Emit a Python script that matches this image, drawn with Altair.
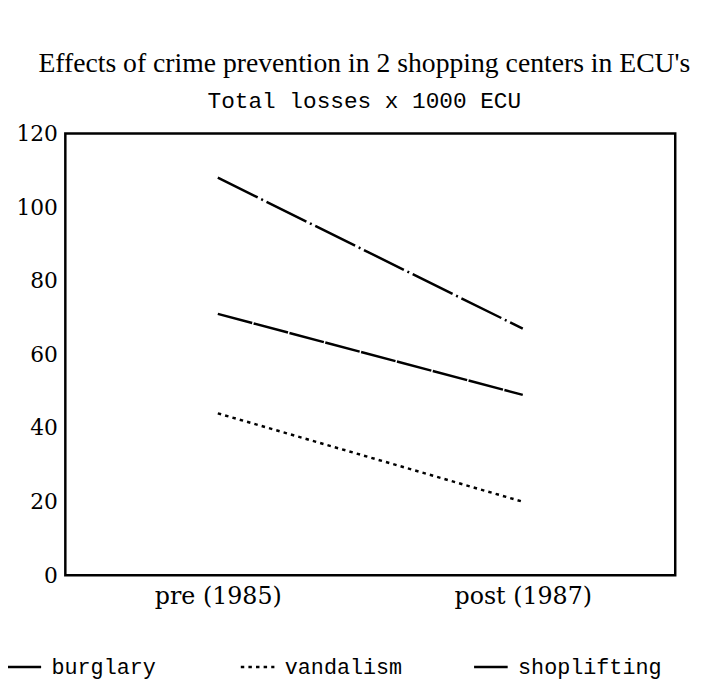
import altair as alt
import pandas as pd

periods = ["pre (1985)", "post (1987)"]
crimes = ["burglary", "vandalism", "shoplifting"]
burglary = [108, 67]
vandalism = [44, 20]
shoplifting = [71, 49]

rows = []
for name, vals in zip(crimes, [burglary, vandalism, shoplifting]):
    for p, v in zip(periods, vals):
        rows.append({"period": p, "crime": name, "value": v})
df = pd.DataFrame(rows)

dashes = [[45, 4, 2, 4], [3.5, 4.2], [36, 1.5]]

chart = alt.Chart(df).mark_line(strokeWidth=2.5, color="black").encode(
    x=alt.X("period:N", sort=periods,
            scale=alt.Scale(type="point", padding=0.5),
            axis=alt.Axis(title=None, labelAngle=0, ticks=False, domain=False,
                          labelFont="DejaVu Serif", labelFontSize=24,
                          labelColor="black", labelPadding=9)),
    y=alt.Y("value:Q", scale=alt.Scale(domain=[0, 120]),
            axis=alt.Axis(title=None, values=[0, 20, 40, 60, 80, 100, 120],
                          ticks=False, domain=False, grid=False,
                          labelFont="DejaVu Serif", labelFontSize=22,
                          labelColor="black", labelPadding=8)),
    strokeDash=alt.StrokeDash("crime:N", sort=crimes,
                              scale=alt.Scale(domain=crimes, range=dashes),
                              legend=alt.Legend(title=None, orient="none",
                                                legendX=-60, legendY=521,
                                                direction="horizontal", columns=3,
                                                gridAlign="all", columnPadding=40,
                                                symbolType="stroke", symbolSize=1156,
                                                symbolStrokeWidth=2.5,
                                                symbolStrokeColor="black",
                                                labelFont="Liberation Mono",
                                                labelFontSize=22, labelColor="black",
                                                labelOffset=9, labelLimit=300)),
).properties(
    width=617, height=447,
    autosize="none",
    background="white",
    padding={"left": 58, "top": 123, "right": 20, "bottom": 109},
    title=alt.Title(text="Effects of crime prevention in 2 shopping centers in ECU's",
                    subtitle="Total losses x 1000 ECU",
                    font="Liberation Serif", fontSize=28, fontWeight="normal",
                    color="black", limit=700,
                    subtitleFont="Liberation Mono", subtitleFontSize=23,
                    subtitleColor="black", subtitlePadding=12,
                    anchor="middle", frame="group", offset=10, dx=-6),
).configure_view(stroke="black", strokeWidth=2.5)

chart.save("out.html", embed_options={"renderer": "svg", "actions": False})
